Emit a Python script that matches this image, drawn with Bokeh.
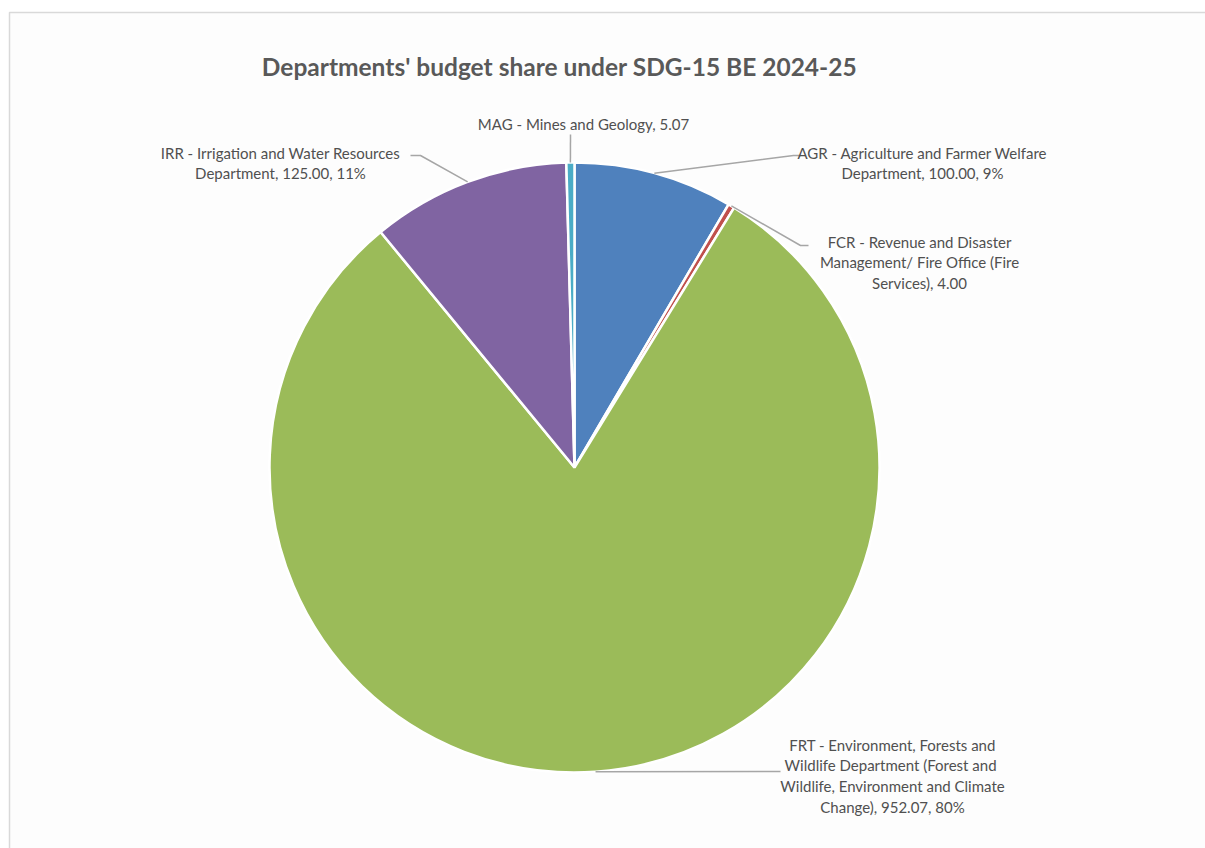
import numpy as np
from bokeh.plotting import figure
from bokeh.models import Range1d
from bokeh.core.properties import value
from bokeh.embed import file_html
from bokeh.resources import INLINE

# ---- data ----
codes = ["AGR", "FCR", "FRT", "IRR", "MAG"]
budgets = [100.00, 4.00, 952.07, 125.00, 5.07]
colors = ["#4F81BD", "#C0504D", "#9BBB59", "#8064A2", "#4BACC6"]
label_lines = [
    ["AGR - Agriculture and Farmer Welfare", "Department, 100.00, 9%"],
    ["FCR - Revenue and Disaster", "Management/ Fire Office (Fire", "Services), 4.00"],
    ["FRT - Environment, Forests and", "Wildlife Department (Forest  and",
     "Wildlife, Environment and Climate", "Change), 952.07, 80%"],
    ["IRR - Irrigation and Water Resources", "Department, 125.00, 11%"],
    ["MAG - Mines and Geology, 5.07"],
]
title = "Departments' budget share under SDG-15 BE 2024-25"

# ---- layout (page pixel coords) ----
W, H = 1205, 848
def X(px): return px
def Y(py): return H - py

cx, cy, R = 574, 467, 305
# label block centers (page px) and leader line elbow/end points
label_center = [(922, 152), (919, 241), (892, 744), (280, 152), (583, 123)]
leader_end = [[(793, 155), (800, 155)],
              [(800, 245), (808, 245)],
              [(776, 771), (780, 771)],
              [(420, 155), (410, 155)],
              [(570, 134)]]
line_h = 20.8

p = figure(width=W, height=H, output_backend="svg", toolbar_location=None,
           x_range=Range1d(0, W), y_range=Range1d(0, H),
           min_border=0, outline_line_color=None)
p.axis.visible = False
p.grid.visible = False
p.background_fill_color = "white"
p.border_fill_color = "white"

# chart area background and border
p.quad(left=[X(9)], right=[X(1400)], top=[Y(12)], bottom=[Y(1000)],
       fill_color="#FDFDFD", line_color="#D9D9D9", line_width=1.5)

vals = np.array(budgets)
frac = vals / vals.sum()
cum = np.concatenate([[0], np.cumsum(frac)])
start = np.pi / 2 - cum[:-1] * 2 * np.pi
end = np.pi / 2 - cum[1:] * 2 * np.pi
mid = (start + end) / 2

p.wedge(x=X(cx), y=Y(cy), radius=R, start_angle=list(start), end_angle=list(end),
        direction="clock", fill_color=colors, line_color="white", line_width=2.5)

font = value("Lato")
for i in range(len(codes)):
    # leader line from slice edge
    sx = cx + R * np.cos(mid[i])
    sy = cy - R * np.sin(mid[i])
    xs = [X(sx)] + [X(a) for a, b in leader_end[i]]
    ys = [Y(sy)] + [Y(b) for a, b in leader_end[i]]
    p.line(xs, ys, line_color="#A6A6A6", line_width=1.5)
    lx, ly = label_center[i]
    for k, t in enumerate(label_lines[i]):
        p.text(x=[X(lx)], y=[Y(ly + k * line_h)], text=[t], text_font=font,
               text_font_size="15px", text_color="#505050",
               text_align="center", text_baseline="middle")

p.text(x=[X(559)], y=[Y(66)], text=[title], text_font=font, text_font_style="bold",
       text_font_size="24.5px", text_color="#595959",
       text_align="center", text_baseline="middle")

open("out.html", "w").write(file_html(p, INLINE))
